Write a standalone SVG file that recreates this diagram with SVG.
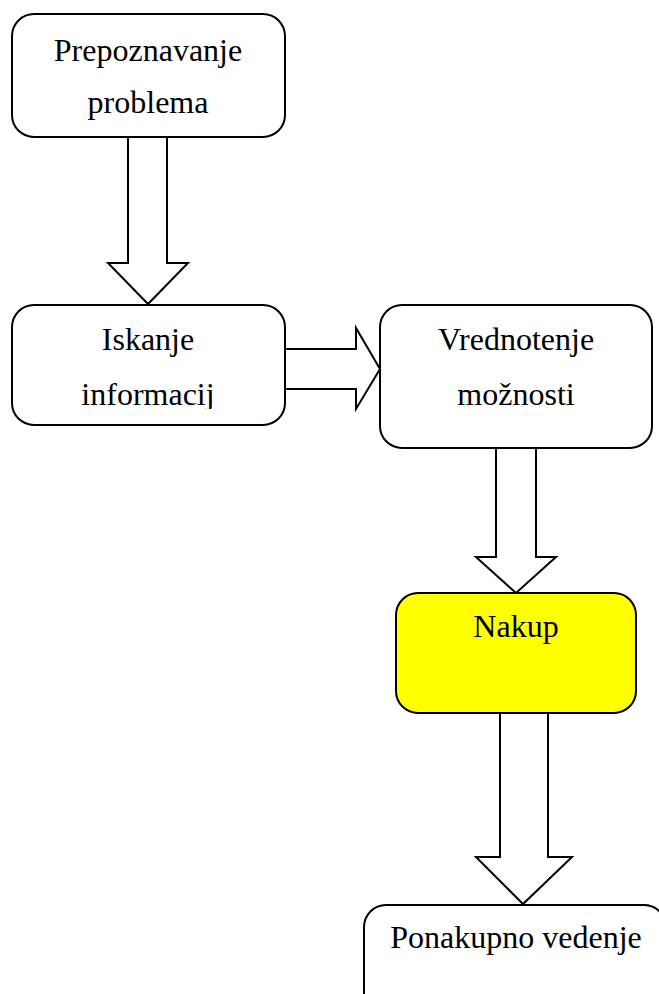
<svg xmlns="http://www.w3.org/2000/svg" width="659" height="994" viewBox="0 0 659 994">
<style>
.box{fill:#ffffff;stroke:#000000;stroke-width:2}
.arrow{fill:#ffffff;stroke:#000000;stroke-width:2;stroke-linejoin:miter}
.t{font-family:"Liberation Serif","Times New Roman",serif;font-size:32px;fill:#000000;text-anchor:middle}
</style>
<defs>
<clipPath id="clip2"><rect x="0" y="300" width="300" height="109"/></clipPath>
</defs>
<rect width="659" height="994" fill="#ffffff"/>
<g id="connectors">
<polygon class="arrow" points="128,137 167,137 167,263 188,263 148,304 108,263 128,263"/>
<polygon class="arrow" points="285,349 356,349 356,328 380,369 356,409 356,389 285,389"/>
<polygon class="arrow" points="496,448 536,448 536,557 556,557 516,593 476,557 496,557"/>
<polygon class="arrow" points="500,713 548,713 548,857 572,857 523,904 476,857 500,857"/>
</g>
<g id="node1">
<rect class="box" x="12" y="14" width="273" height="123" rx="22"/>
<text class="t" x="148" y="61">Prepoznavanje</text>
<text class="t" x="148" y="113">problema</text>
</g>
<g id="node2">
<rect class="box" x="12" y="305" width="273" height="120" rx="22"/>
<text class="t" x="148" y="350">Iskanje</text>
<text class="t" x="148" y="405" clip-path="url(#clip2)">informacij</text>
</g>
<g id="node3">
<rect class="box" x="380" y="305" width="272" height="143" rx="22"/>
<text class="t" x="516" y="350">Vrednotenje</text>
<text class="t" x="516" y="405">možnosti</text>
</g>
<g id="node4">
<rect class="box" x="396" y="593" width="240" height="120" rx="22" style="fill:#ffff00"/>
<text class="t" x="516" y="637">Nakup</text>
</g>
<g id="node5">
<rect class="box" x="364" y="905" width="302" height="110" rx="22"/>
<text class="t" x="516" y="948">Ponakupno vedenje</text>
</g>
</svg>
